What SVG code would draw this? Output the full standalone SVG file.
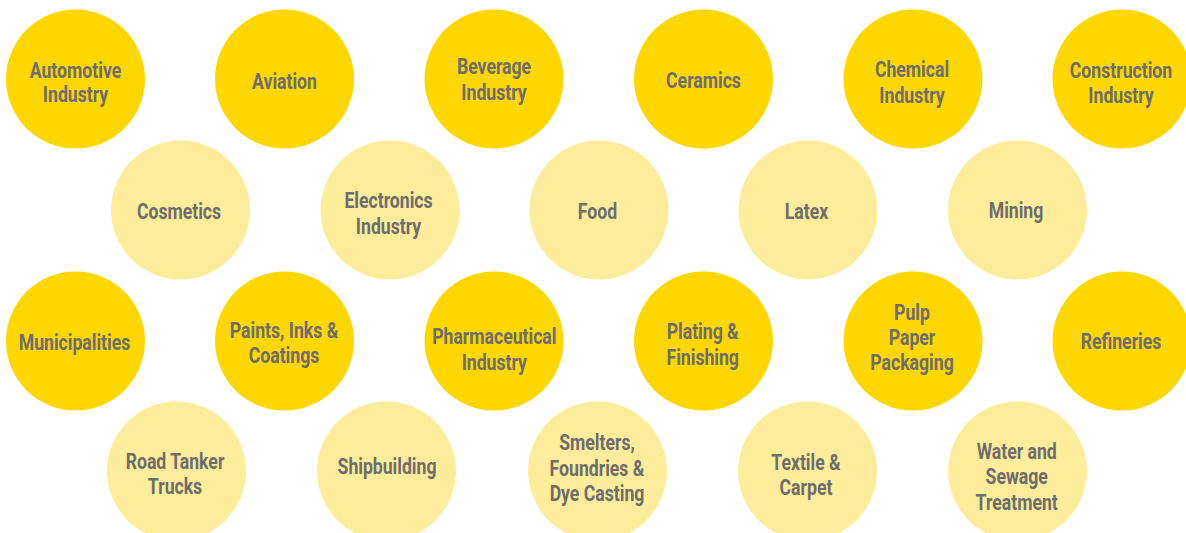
<svg xmlns="http://www.w3.org/2000/svg" width="1186" height="533" viewBox="0 0 1186 533">
<style>
.d{fill:#FED600}
.l{fill:#FDEC9A}
text{font-family:Roboto,"Liberation Sans",sans-serif;font-weight:bold;font-size:21.5px;fill:#6D6D6D;text-anchor:middle}
</style>
<rect width="1186" height="533" fill="#FFFFFF"/>
<g id="automotive"><circle class="d" cx="75.5" cy="79" r="69.5"/><g transform="translate(75.5 0) scale(0.82 1)"><text x="0" y="78">Automotive</text><text x="0" y="102">Industry</text></g></g>
<g id="aviation"><circle class="d" cx="284.5" cy="79" r="69.5"/><g transform="translate(284.5 0) scale(0.82 1)"><text x="0" y="89">Aviation</text></g></g>
<g id="beverage"><circle class="d" cx="494" cy="79" r="69.5"/><g transform="translate(494 0) scale(0.82 1)"><text x="0" y="74">Beverage</text><text x="0" y="100">Industry</text></g></g>
<g id="ceramics"><circle class="d" cx="703.5" cy="79" r="69.5"/><g transform="translate(703.5 0) scale(0.82 1)"><text x="0" y="88">Ceramics</text></g></g>
<g id="chemical"><circle class="d" cx="913" cy="79" r="69.5"/><g transform="translate(912 0) scale(0.82 1)"><text x="0" y="77">Chemical</text><text x="0" y="103">Industry</text></g></g>
<g id="construction"><circle class="d" cx="1122" cy="79" r="69.5"/><g transform="translate(1121 0) scale(0.82 1)"><text x="0" y="78">Construction</text><text x="0" y="103">Industry</text></g></g>
<g id="cosmetics"><circle class="l" cx="180.5" cy="210" r="69.5"/><g transform="translate(179 0) scale(0.82 1)"><text x="0" y="219">Cosmetics</text></g></g>
<g id="electronics"><circle class="l" cx="390" cy="210" r="69.5"/><g transform="translate(388.5 0) scale(0.82 1)"><text x="0" y="208">Electronics</text><text x="0" y="234">Industry</text></g></g>
<g id="food"><circle class="l" cx="599" cy="210" r="69.5"/><g transform="translate(597.5 0) scale(0.82 1)"><text x="0" y="219">Food</text></g></g>
<g id="latex"><circle class="l" cx="808" cy="210" r="69.5"/><g transform="translate(806.5 0) scale(0.82 1)"><text x="0" y="219">Latex</text></g></g>
<g id="mining"><circle class="l" cx="1017.5" cy="210" r="69.5"/><g transform="translate(1016 0) scale(0.82 1)"><text x="0" y="218">Mining</text></g></g>
<g id="municipalities"><circle class="d" cx="75.5" cy="341" r="69.5"/><g transform="translate(74.5 0) scale(0.82 1)"><text x="0" y="350">Municipalities</text></g></g>
<g id="paints"><circle class="d" cx="284.5" cy="341" r="69.5"/><g transform="translate(284 0) scale(0.82 1)"><text x="0" y="338">Paints, Inks &amp;</text><text x="0" y="363">Coatings</text></g></g>
<g id="pharmaceutical"><circle class="d" cx="494" cy="341" r="69.5"/><g transform="translate(494.3 0) scale(0.82 1)"><text x="0" y="344">Pharmaceutical</text><text x="0" y="370">Industry</text></g></g>
<g id="plating"><circle class="d" cx="703.5" cy="341" r="69.5"/><g transform="translate(702.7 0) scale(0.82 1)"><text x="0" y="339">Plating &amp;</text><text x="0" y="365">Finishing</text></g></g>
<g id="pulp"><circle class="d" cx="913" cy="341" r="69.5"/><g transform="translate(912 0) scale(0.82 1)"><text x="0" y="320">Pulp</text><text x="0" y="345">Paper</text><text x="0" y="370">Packaging</text></g></g>
<g id="refineries"><circle class="d" cx="1122" cy="341" r="69.5"/><g transform="translate(1121 0) scale(0.82 1)"><text x="0" y="349">Refineries</text></g></g>
<g id="roadtanker"><circle class="l" cx="176.5" cy="471" r="69.5"/><g transform="translate(175 0) scale(0.82 1)"><text x="0" y="469">Road Tanker</text><text x="0" y="494">Trucks</text></g></g>
<g id="shipbuilding"><circle class="l" cx="386.5" cy="471" r="69.5"/><g transform="translate(387 0) scale(0.82 1)"><text x="0" y="474">Shipbuilding</text></g></g>
<g id="smelters"><circle class="l" cx="597.5" cy="471" r="69.5"/><g transform="translate(597 0) scale(0.82 1)"><text x="0" y="450">Smelters,</text><text x="0" y="476">Foundries &amp;</text><text x="0" y="501">Dye Casting</text></g></g>
<g id="textile"><circle class="l" cx="807.5" cy="471" r="69.5"/><g transform="translate(806 0) scale(0.82 1)"><text x="0" y="470">Textile &amp;</text><text x="0" y="495">Carpet</text></g></g>
<g id="water"><circle class="l" cx="1017.5" cy="471" r="69.5"/><g transform="translate(1016.7 0) scale(0.82 1)"><text x="0" y="459">Water and</text><text x="0" y="484">Sewage</text><text x="0" y="510">Treatment</text></g></g>
<g id="connectors"/>
</svg>
